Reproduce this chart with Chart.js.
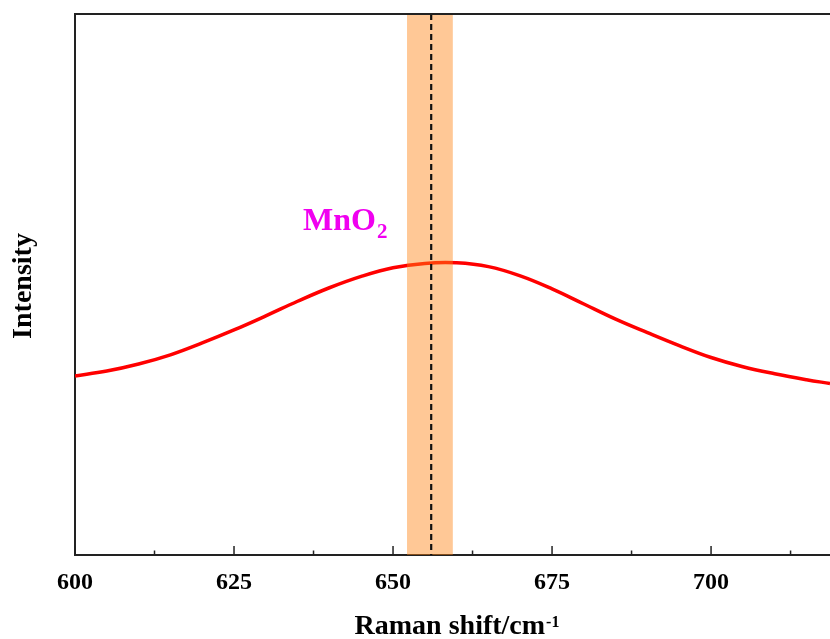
<!DOCTYPE html>
<html>
<head>
<meta charset="utf-8">
<script src="https://cdn.jsdelivr.net/npm/chart.js@4/dist/chart.umd.min.js"></script>
<style>
html,body{margin:0;padding:0;background:#fff;}
#wrap{width:830px;height:639px;position:relative;}
</style>
</head>
<body>
<div id="wrap"><canvas id="c" width="830" height="639"></canvas></div>
<script>
// Data
const ramanShift = [600,605,610,615,620,625,630,635,640,645,650,655,660,665,670,675,680,685,690,695,700,705,710,715,718.7];
const intensity  = [331,340,353,370,392,416,442,469,494,515,531,539,540,533,516,492,464,436,411,387,365,348,335,324,317];
const xTickLabels = [600,625,650,675,700];
const bandRange = [652.2, 659.4];
const peakPosition = 656;
const peakLabel = ['MnO', '2'];
const xAxisTitle = ['Raman shift/cm', '-1'];
const yAxisTitle = 'Intensity';

const FONT = "'Liberation Serif','Times New Roman',serif";

const decor = {
  id: 'decor',
  afterDatasetsDraw(chart) {
    const {ctx, chartArea: ca, scales: {x, y}} = chart;
    ctx.save();
    const b0 = x.getPixelForValue(bandRange[0]);
    const b1 = x.getPixelForValue(bandRange[1]);
    ctx.fillStyle = 'rgba(255,133,22,0.45)';
    ctx.fillRect(b0, ca.top - 1, b1 - b0, ca.bottom - ca.top + 1);
    const px = x.getPixelForValue(peakPosition);
    ctx.strokeStyle = '#111';
    ctx.lineWidth = 2.2;
    ctx.setLineDash([6, 4]);
    ctx.beginPath();
    ctx.moveTo(px, ca.top);
    ctx.lineTo(px, ca.bottom);
    ctx.stroke();
    ctx.restore();
  },
  afterDraw(chart) {
    const {ctx, chartArea: ca, scales: {x}} = chart;
    ctx.save();
    ctx.strokeStyle = '#222';
    ctx.lineWidth = 2;
    ctx.beginPath();
    ctx.moveTo(ca.left, ca.top);
    ctx.lineTo(ca.right, ca.top);
    ctx.stroke();
    ctx.lineWidth = 1.5;
    x.ticks.forEach(t => {
      const p = x.getPixelForValue(t.value);
      const major = xTickLabels.includes(t.value);
      ctx.beginPath();
      ctx.moveTo(p, ca.bottom);
      ctx.lineTo(p, ca.bottom - (major ? 9 : 4.5));
      ctx.stroke();
    });
    ctx.fillStyle = '#000';
    ctx.textBaseline = 'alphabetic';
    ctx.textAlign = 'left';
    ctx.font = 'bold 28px ' + FONT;
    const w1 = ctx.measureText(xAxisTitle[0]).width;
    ctx.font = 'bold 16px ' + FONT;
    const w2 = ctx.measureText(xAxisTitle[1]).width;
    const xl = 457 - (w1 + w2 + 1) / 2;
    ctx.font = 'bold 28px ' + FONT;
    ctx.fillText(xAxisTitle[0], xl, 634);
    ctx.font = 'bold 16px ' + FONT;
    ctx.fillText(xAxisTitle[1], xl + w1 + 1, 627);
    ctx.save();
    ctx.translate(24, 286);
    ctx.rotate(-Math.PI / 2);
    ctx.textAlign = 'center';
    ctx.textBaseline = 'middle';
    ctx.font = 'bold 28px ' + FONT;
    ctx.fillText(yAxisTitle, 0, 0);
    ctx.restore();
    ctx.fillStyle = '#f000f0';
    ctx.font = 'bold 32px ' + FONT;
    ctx.textAlign = 'left';
    ctx.fillText(peakLabel[0], 303, 230);
    const wm = ctx.measureText(peakLabel[0]).width;
    ctx.font = 'bold 21px ' + FONT;
    ctx.fillText(peakLabel[1], 303 + wm + 1, 238);
    ctx.restore();
  }
};

new Chart(document.getElementById('c'), {
  type: 'line',
  data: {
    datasets: [{
      data: ramanShift.map((v, i) => ({x: v, y: intensity[i]})),
      borderColor: '#ff0000',
      borderWidth: 3.5,
      pointRadius: 0,
      tension: 0.4,
      fill: false
    }]
  },
  options: {
    responsive: false,
    animation: false,
    devicePixelRatio: 1,
    layout: {padding: {top: 14, right: 0, left: 0, bottom: 0}},
    plugins: {legend: {display: false}, tooltip: {enabled: false}},
    scales: {
      x: {
        type: 'linear',
        min: 600,
        max: 718.7,
        grid: {display: false, drawTicks: false},
        border: {display: true, color: '#222', width: 2},
        ticks: {
          stepSize: 12.5,
          includeBounds: false,
          autoSkip: false,
          maxRotation: 0,
          padding: 13,
          color: '#000',
          font: {family: FONT, size: 24, weight: 'bold'},
          callback: v => xTickLabels.includes(v) ? String(v) : ''
        },
        afterFit: s => { s.height = 84; }
      },
      y: {
        min: 0,
        max: 1000,
        grid: {display: false, drawTicks: false},
        border: {display: true, color: '#222', width: 2},
        ticks: {display: false},
        afterFit: s => { s.width = 75; }
      }
    }
  },
  plugins: [decor]
});
</script>
</body>
</html>
